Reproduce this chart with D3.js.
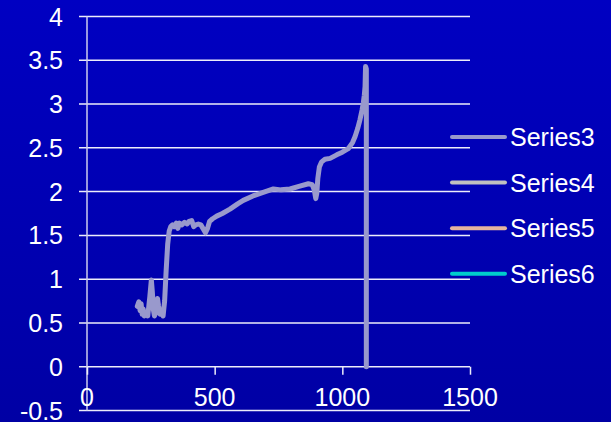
<!DOCTYPE html>
<html>
<head>
<meta charset="utf-8">
<script src="https://cdn.jsdelivr.net/npm/d3@7"></script>
<style>
  html, body { margin: 0; padding: 0; background: #0000b8; }
  svg { display: block; }
  text { font-family: "Liberation Sans", Arial, sans-serif; fill: #ffffff; }
</style>
</head>
<body>
<svg id="chart" width="611" height="422"></svg>
<script>
// Tick values
const xTicks = [0, 500, 1000, 1500];
const yTicks = [-0.5, 0, 0.5, 1, 1.5, 2, 2.5, 3, 3.5, 4];

// Series names and colours
const seriesNames = ["Series3", "Series4", "Series5", "Series6"];
const seriesColors = ["#9999cc", "#c0c0c0", "#e6b4a0", "#00cccc"];

// Series3 measurements: x positions and values
const series3X = [197, 203, 208, 212, 216, 220, 224, 230, 238, 246, 252, 256, 260, 264, 270, 276, 280, 286, 292, 298,
  304, 310, 316, 322, 328, 335, 342, 350, 356, 362, 372, 382, 392, 400, 410, 418, 426, 436, 446, 456,
  464, 472, 480, 492, 508, 530, 560, 590, 612, 650, 690, 730, 760, 795, 830, 867, 882, 890, 896, 900,
  904, 910, 919, 932, 952, 978, 1000, 1023, 1040, 1050, 1060, 1069, 1077, 1082, 1086, 1089, 1090, 1091, 1094, 1094];
const series3Y = [0.69, 0.74, 0.64, 0.72, 0.60, 0.66, 0.58, 0.62, 0.58, 0.80, 0.99, 0.85, 0.65, 0.58, 0.62, 0.78, 0.70, 0.60, 0.62, 0.58,
  0.75, 1.10, 1.40, 1.55, 1.60, 1.62, 1.60, 1.64, 1.58, 1.64, 1.62, 1.65, 1.63, 1.66, 1.67, 1.60, 1.62, 1.63, 1.62, 1.57,
  1.53, 1.58, 1.66, 1.69, 1.72, 1.75, 1.80, 1.86, 1.90, 1.95, 1.99, 2.03, 2.02, 2.03, 2.06, 2.09, 2.08, 2.02, 1.92, 1.98,
  2.15, 2.28, 2.34, 2.37, 2.38, 2.42, 2.45, 2.49, 2.56, 2.63, 2.72, 2.82, 2.93, 3.01, 3.10, 3.20, 3.32, 3.43, 3.40, 0];
// Series4–Series6 carry no visible points
const series4X = [], series4Y = [];
const series5X = [], series5Y = [];
const series6X = [], series6Y = [];

const allSeries = [
  { name: seriesNames[0], color: seriesColors[0], x: series3X, y: series3Y },
  { name: seriesNames[1], color: seriesColors[1], x: series4X, y: series4Y },
  { name: seriesNames[2], color: seriesColors[2], x: series5X, y: series5Y },
  { name: seriesNames[3], color: seriesColors[3], x: series6X, y: series6Y }
];

const svg = d3.select("#chart");
const W = 611, H = 422;

// Background gradient
const defs = svg.append("defs");
const grad = defs.append("linearGradient").attr("id", "bg").attr("x1", 0).attr("y1", 0).attr("x2", 0).attr("y2", 1);
grad.append("stop").attr("offset", "0%").attr("stop-color", "#0000c2");
grad.append("stop").attr("offset", "100%").attr("stop-color", "#0000a4");
svg.append("rect").attr("width", W).attr("height", H).attr("fill", "url(#bg)");

const x = d3.scaleLinear().domain([0, 1500]).range([87, 470]);
const y = d3.scaleLinear().domain([-0.5, 4]).range([410.5, 16.5]);

// Horizontal gridlines (with short tick stubs on the left)
svg.append("g").selectAll("line").data(yTicks).join("line")
  .attr("x1", 79).attr("x2", 470)
  .attr("y1", d => y(d)).attr("y2", d => y(d))
  .attr("stroke", "#ececfa").attr("stroke-width", 1.5);

// Vertical value axis at x = 0
svg.append("line")
  .attr("x1", x(0)).attr("x2", x(0))
  .attr("y1", y(4)).attr("y2", y(-0.5))
  .attr("stroke", "#ccccee").attr("stroke-width", 1.5);

// Y tick labels
svg.append("g").selectAll("text").data(yTicks).join("text")
  .attr("x", 63).attr("y", d => y(d) + 9)
  .attr("text-anchor", "end")
  .attr("font-size", "25px")
  .text(d => d);

// X axis crossing at y = 0, ticks pointing down
const xAxis = svg.append("g").attr("transform", `translate(0,${y(0)})`)
  .call(d3.axisBottom(x).tickValues(xTicks).tickSize(8).tickFormat(d3.format("d")));
xAxis.select(".domain").remove();
xAxis.selectAll(".tick line").attr("stroke", "#ececfa").attr("stroke-width", 1.5);
xAxis.selectAll(".tick text").remove();

// X tick labels
svg.append("g").selectAll("text").data(xTicks).join("text")
  .attr("x", d => x(d)).attr("y", 406)
  .attr("text-anchor", "middle")
  .attr("font-size", "25px")
  .text(d => d);

// Data lines
const line = d3.line().x(d => x(d[0])).y(d => y(d[1]));
allSeries.forEach(s => {
  const pts = s.x.map((v, i) => [v, s.y[i]]);
  if (pts.length === 0) return;
  svg.append("path")
    .datum(pts)
    .attr("d", line)
    .attr("fill", "none")
    .attr("stroke", s.color)
    .attr("stroke-width", 5)
    .attr("stroke-linejoin", "round")
    .attr("stroke-linecap", "round");
});

// Legend
const legend = svg.append("g");
allSeries.forEach((s, i) => {
  const ly = 137 + i * 45.6;
  legend.append("line")
    .attr("x1", 452).attr("x2", 505).attr("y1", ly).attr("y2", ly)
    .attr("stroke", s.color).attr("stroke-width", 4).attr("stroke-linecap", "round");
  legend.append("text")
    .attr("x", 510).attr("y", ly + 9)
    .attr("font-size", "25px")
    .text(s.name);
});
</script>
</body>
</html>
